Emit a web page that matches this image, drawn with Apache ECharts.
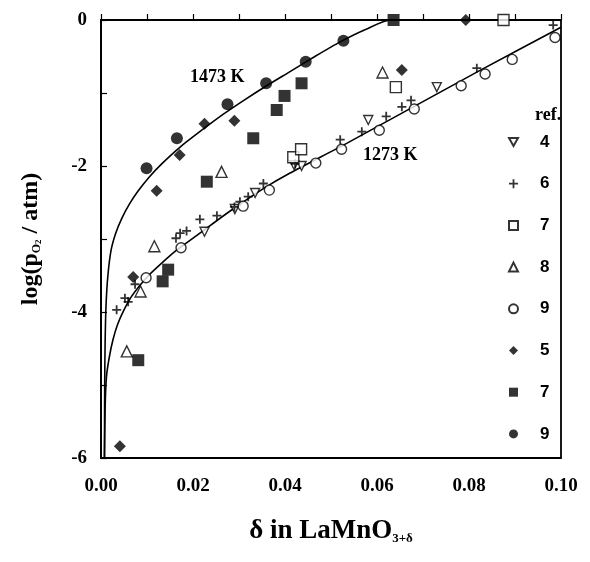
<!DOCTYPE html>
<html>
<head>
<meta charset="utf-8">
<script src="https://cdn.jsdelivr.net/npm/echarts@6/dist/echarts.min.js"></script>
<style>
  html, body { margin: 0; padding: 0; background: #fff; }
  #main { width: 590px; height: 562px; }
</style>
</head>
<body>
<div id="main"></div>
<script>
// data: [delta, log(pO2/atm)]
const ref4Open = [[0.0225, -2.90], [0.0291, -2.59], [0.0335, -2.37], [0.0420, -1.99], [0.0436, -2.00], [0.0581, -1.37], [0.0730, -0.92]]
const ref6Plus = [[0.0034, -3.97], [0.0052, -3.81], [0.0059, -3.86], [0.0074, -3.62], [0.0163, -2.99], [0.0172, -2.92],
  [0.0186, -2.89], [0.0215, -2.73], [0.0252, -2.68], [0.0290, -2.56], [0.0302, -2.49], [0.0320, -2.42], [0.0353, -2.24],
  [0.0422, -1.97], [0.0520, -1.64], [0.0567, -1.53], [0.0620, -1.32], [0.0654, -1.19], [0.0674, -1.10], [0.0817, -0.66], [0.0983, -0.07]]
const ref7Open = [[0.0418, -1.88], [0.0435, -1.77], [0.0641, -0.92], [0.0875, 0.0]]
const ref8Open = [[0.0056, -4.54], [0.0086, -3.72], [0.0116, -3.10], [0.0262, -2.08], [0.0612, -0.72]]
const ref9Open = [[0.0098, -3.53], [0.0174, -3.12], [0.0309, -2.55], [0.0366, -2.33], [0.0467, -1.96], [0.0523, -1.77],
  [0.0605, -1.51], [0.0681, -1.22], [0.0783, -0.90], [0.0835, -0.74], [0.0894, -0.54], [0.0987, -0.24]]
const ref5Filled = [[0.0041, -5.84], [0.0070, -3.52], [0.0121, -2.34], [0.0171, -1.85], [0.0225, -1.42], [0.0290, -1.38],
  [0.0654, -0.685], [0.0793, 0.0], [0.0998, 0.02]]
const ref7Filled = [[0.0081, -4.66], [0.0134, -3.58], [0.0146, -3.42], [0.0230, -2.215], [0.0331, -1.62], [0.0382, -1.233],
  [0.0399, -1.04], [0.0436, -0.867], [0.0636, 0.0]]
const ref9Filled = [[0.0099, -2.03], [0.0165, -1.62], [0.0275, -1.155], [0.0359, -0.867], [0.0445, -0.571], [0.0527, -0.283]]

// fitted curves
const fit1473 = [[0.00075, -6.0], [0.0008, -5.0], [0.0009, -4.4], [0.0011, -3.9], [0.0015, -3.5], [0.0022, -3.15],
  [0.0032, -2.92], [0.0045, -2.72], [0.0062, -2.52], [0.0081, -2.34], [0.0105, -2.15], [0.0132, -1.97], [0.0172, -1.74],
  [0.0219, -1.51], [0.0266, -1.29], [0.0313, -1.09], [0.0360, -0.90], [0.0410, -0.71], [0.0465, -0.50], [0.0520, -0.30],
  [0.0575, -0.13], [0.0630, 0.0], [0.1000, 0.0]]
const fit1273 = [[0.00075, -6.0], [0.0009, -5.3], [0.0012, -4.88], [0.0018, -4.62], [0.0026, -4.38], [0.0036, -4.17],
  [0.0050, -3.97], [0.0065, -3.80], [0.0080, -3.67], [0.0105, -3.49], [0.0132, -3.33], [0.0165, -3.15], [0.0215, -2.92],
  [0.0280, -2.62], [0.0353, -2.31], [0.0410, -2.10], [0.0534, -1.69], [0.0679, -1.19], [0.0824, -0.69], [0.1000, -0.10]]

const refKeys = ['r4', 'r6', 'r7o', 'r8', 'r9o', 'r5', 'r7f', 'r9f']
const refLabels = { r4: '4', r6: '6', r7o: '7', r8: '8', r9o: '9', r5: '5', r7f: '7', r9f: '9' }

const plusPath = 'path://M4,0H6V4H10V6H6V10H4V6H0V4H4Z'
const downTriPath = 'path://M0,0L10,0L5,9Z'
const serif = 'Liberation Serif'

const chart = echarts.init(document.getElementById('main'))

const openStyle = { color: '#fff', borderColor: '#000', borderWidth: 1.4 }
const filledStyle = { color: '#000' }

function scatter(name, data, symbol, size, style) {
  return {
    name: name,
    type: 'scatter',
    data: data,
    symbol: symbol,
    symbolSize: size,
    itemStyle: style,
    z: 5,
    silent: true
  }
}

function fitLine(data) {
  return {
    type: 'line',
    data: data,
    showSymbol: false,
    smooth: 0.25,
    lineStyle: { color: '#000', width: 1.6 },
    z: 3,
    silent: true
  }
}

chart.setOption({
  animation: false,
  grid: {
    left: 101, right: 29, top: 20, bottom: 104,
    show: true, borderColor: '#000', borderWidth: 1.8, backgroundColor: 'transparent'
  },
  title: {
    text: 'ref.', left: 530, top: 101,
    textStyle: { fontFamily: serif, fontWeight: 'bold', fontSize: 18, color: '#000' }
  },
  legend: {
    data: refKeys,
    orient: 'vertical',
    left: 503, top: 127,
    itemWidth: 9, itemHeight: 9,
    itemGap: 21.7,
    formatter: function (name) { return refLabels[name] },
    textStyle: {
      fontFamily: 'Liberation Sans', fontWeight: 'bold', fontSize: 17, lineHeight: 20, color: '#000',
      padding: [0, 0, 0, 17]
    },
    selectedMode: false
  },
  xAxis: {
    type: 'value', min: 0, max: 0.1, interval: 0.02,
    axisLine: { lineStyle: { color: '#000', width: 1.8 } },
    axisTick: { inside: true, length: 6, lineStyle: { color: '#000', width: 1.2 } },
    minorTick: { show: true, splitNumber: 2, length: 6, lineStyle: { color: '#000', width: 1.2 } },
    splitLine: { show: false },
    axisLabel: {
      margin: 19, fontFamily: serif, fontWeight: 'bold', fontSize: 19, color: '#000',
      formatter: function (v) { return v.toFixed(2) }
    },
    name: '{a|δ in LaMnO}{sub|3+δ}',
    nameLocation: 'middle', nameGap: 60,
    nameTextStyle: {
      rich: {
        a: { fontFamily: serif, fontWeight: 'bold', fontSize: 27, color: '#000' },
        sub: { fontFamily: serif, fontWeight: 'bold', fontSize: 13, color: '#000', padding: [14, 0, 0, 0] }
      }
    }
  },
  yAxis: {
    type: 'value', min: -6, max: 0, interval: 2,
    axisLine: { lineStyle: { color: '#000', width: 1.8 } },
    axisTick: { inside: true, length: 6, lineStyle: { color: '#000', width: 1.2 } },
    minorTick: { show: true, splitNumber: 2, length: 6, lineStyle: { color: '#000', width: 1.2 } },
    splitLine: { show: false },
    axisLabel: { margin: 14, fontFamily: serif, fontWeight: 'bold', fontSize: 19, color: '#000' },
    name: '{a|log(p}{sub|O}{sub2|2}{a| / atm)}',
    nameLocation: 'middle', nameGap: 58, nameRotate: 90,
    nameTextStyle: {
      rich: {
        a: { fontFamily: serif, fontWeight: 'bold', fontSize: 24, color: '#000' },
        sub: { fontFamily: serif, fontWeight: 'bold', fontSize: 12, color: '#000', padding: [12, 0, 0, 0] },
        sub2: { fontFamily: serif, fontWeight: 'bold', fontSize: 9, color: '#000', padding: [16, 0, 0, 0] }
      }
    }
  },
  graphic: [
    { type: 'text', left: 190, top: 68, style: { text: '1473 K', font: 'bold 18px "Liberation Serif"', fill: '#000' } },
    { type: 'text', left: 363, top: 146, style: { text: '1273 K', font: 'bold 18px "Liberation Serif"', fill: '#000' } }
  ],
  series: [
    fitLine(fit1473),
    fitLine(fit1273),
    scatter('r4', ref4Open, downTriPath, 9, openStyle),
    scatter('r6', ref6Plus, plusPath, 9, filledStyle),
    scatter('r7o', ref7Open, 'rect', 11, openStyle),
    scatter('r8', ref8Open, 'triangle', 11, openStyle),
    scatter('r9o', ref9Open, 'circle', 10, openStyle),
    scatter('r5', ref5Filled, 'diamond', 12, filledStyle),
    scatter('r7f', ref7Filled, 'rect', 12, filledStyle),
    scatter('r9f', ref9Filled, 'circle', 12, filledStyle)
  ]
})
</script>
</body>
</html>
